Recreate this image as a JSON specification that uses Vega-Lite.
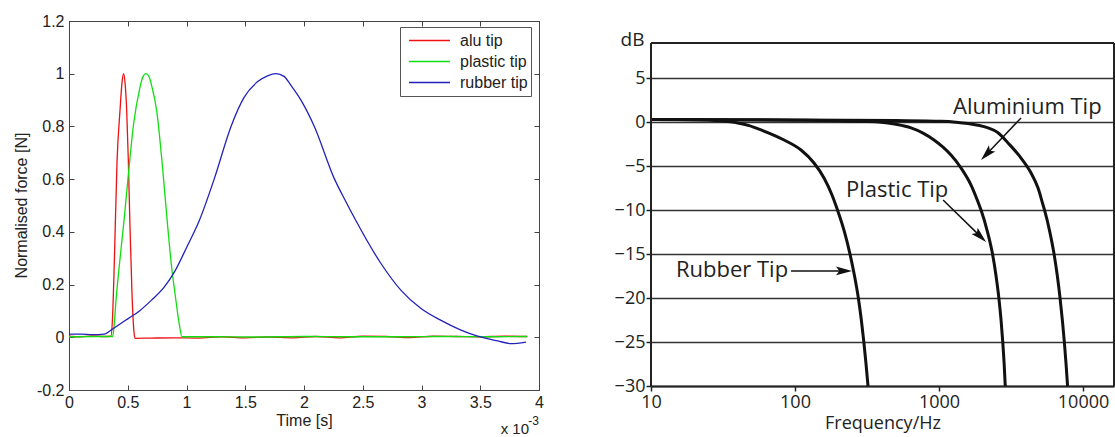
{
  "$schema": "https://vega.github.io/schema/vega-lite/v6.json",
  "padding": {"left": 12, "top": 12, "right": 0, "bottom": 0},
  "background": "white",
  "spacing": 70,
  "resolve": {"legend": {"color": "independent"}},
  "datasets": {
    "impulse": [
      {"t": 0, "force": 0.004, "tip": "alu tip"},
      {"t": 0.1, "force": 0.002, "tip": "alu tip"},
      {"t": 0.2, "force": 0.005, "tip": "alu tip"},
      {"t": 0.3, "force": 0.003, "tip": "alu tip"},
      {"t": 0.357, "force": 0.004, "tip": "alu tip"},
      {"t": 0.37, "force": 0.07, "tip": "alu tip"},
      {"t": 0.386, "force": 0.29, "tip": "alu tip"},
      {"t": 0.409, "force": 0.67, "tip": "alu tip"},
      {"t": 0.434, "force": 0.86, "tip": "alu tip"},
      {"t": 0.452, "force": 0.97, "tip": "alu tip"},
      {"t": 0.465, "force": 1.0, "tip": "alu tip"},
      {"t": 0.478, "force": 0.96, "tip": "alu tip"},
      {"t": 0.491, "force": 0.86, "tip": "alu tip"},
      {"t": 0.505, "force": 0.67, "tip": "alu tip"},
      {"t": 0.519, "force": 0.42, "tip": "alu tip"},
      {"t": 0.536, "force": 0.167, "tip": "alu tip"},
      {"t": 0.553, "force": 0.02, "tip": "alu tip"},
      {"t": 0.562, "force": -0.004, "tip": "alu tip"},
      {"t": 0.7, "force": -0.003, "tip": "alu tip"},
      {"t": 0.9, "force": -0.002, "tip": "alu tip"},
      {"t": 1.1, "force": -0.003, "tip": "alu tip"},
      {"t": 1.3, "force": 0.002, "tip": "alu tip"},
      {"t": 1.5, "force": -0.002, "tip": "alu tip"},
      {"t": 1.7, "force": 0.001, "tip": "alu tip"},
      {"t": 1.9, "force": -0.002, "tip": "alu tip"},
      {"t": 2.1, "force": 0.003, "tip": "alu tip"},
      {"t": 2.3, "force": -0.002, "tip": "alu tip"},
      {"t": 2.5, "force": 0.004, "tip": "alu tip"},
      {"t": 2.7, "force": 0.003, "tip": "alu tip"},
      {"t": 2.9, "force": -0.001, "tip": "alu tip"},
      {"t": 3.1, "force": 0.004, "tip": "alu tip"},
      {"t": 3.3, "force": 0.003, "tip": "alu tip"},
      {"t": 3.5, "force": 0.002, "tip": "alu tip"},
      {"t": 3.7, "force": 0.004, "tip": "alu tip"},
      {"t": 3.9, "force": 0.003, "tip": "alu tip"},
      {"t": 0, "force": 0.002, "tip": "plastic tip"},
      {"t": 0.2, "force": 0.003, "tip": "plastic tip"},
      {"t": 0.372, "force": 0.003, "tip": "plastic tip"},
      {"t": 0.385, "force": 0.05, "tip": "plastic tip"},
      {"t": 0.4, "force": 0.14, "tip": "plastic tip"},
      {"t": 0.43, "force": 0.28, "tip": "plastic tip"},
      {"t": 0.47, "force": 0.45, "tip": "plastic tip"},
      {"t": 0.51, "force": 0.64, "tip": "plastic tip"},
      {"t": 0.55, "force": 0.81, "tip": "plastic tip"},
      {"t": 0.6, "force": 0.94, "tip": "plastic tip"},
      {"t": 0.63, "force": 0.99, "tip": "plastic tip"},
      {"t": 0.655, "force": 1.0, "tip": "plastic tip"},
      {"t": 0.68, "force": 0.99, "tip": "plastic tip"},
      {"t": 0.706, "force": 0.95, "tip": "plastic tip"},
      {"t": 0.746, "force": 0.86, "tip": "plastic tip"},
      {"t": 0.791, "force": 0.67, "tip": "plastic tip"},
      {"t": 0.84, "force": 0.42, "tip": "plastic tip"},
      {"t": 0.875, "force": 0.26, "tip": "plastic tip"},
      {"t": 0.902, "force": 0.167, "tip": "plastic tip"},
      {"t": 0.935, "force": 0.06, "tip": "plastic tip"},
      {"t": 0.962, "force": 0.002, "tip": "plastic tip"},
      {"t": 1.2, "force": 0.002, "tip": "plastic tip"},
      {"t": 1.6, "force": 0.001, "tip": "plastic tip"},
      {"t": 2.0, "force": 0.003, "tip": "plastic tip"},
      {"t": 2.4, "force": 0.002, "tip": "plastic tip"},
      {"t": 2.8, "force": 0.002, "tip": "plastic tip"},
      {"t": 3.2, "force": 0.003, "tip": "plastic tip"},
      {"t": 3.6, "force": 0.002, "tip": "plastic tip"},
      {"t": 3.9, "force": 0.003, "tip": "plastic tip"},
      {"t": 0, "force": 0.012, "tip": "rubber tip"},
      {"t": 0.1, "force": 0.012, "tip": "rubber tip"},
      {"t": 0.2, "force": 0.01, "tip": "rubber tip"},
      {"t": 0.3, "force": 0.012, "tip": "rubber tip"},
      {"t": 0.35, "force": 0.025, "tip": "rubber tip"},
      {"t": 0.4, "force": 0.04, "tip": "rubber tip"},
      {"t": 0.5, "force": 0.07, "tip": "rubber tip"},
      {"t": 0.6, "force": 0.1, "tip": "rubber tip"},
      {"t": 0.7, "force": 0.14, "tip": "rubber tip"},
      {"t": 0.81, "force": 0.19, "tip": "rubber tip"},
      {"t": 0.9, "force": 0.25, "tip": "rubber tip"},
      {"t": 1.0, "force": 0.34, "tip": "rubber tip"},
      {"t": 1.11, "force": 0.444, "tip": "rubber tip"},
      {"t": 1.237, "force": 0.602, "tip": "rubber tip"},
      {"t": 1.379, "force": 0.8, "tip": "rubber tip"},
      {"t": 1.49, "force": 0.91, "tip": "rubber tip"},
      {"t": 1.606, "force": 0.97, "tip": "rubber tip"},
      {"t": 1.69, "force": 0.992, "tip": "rubber tip"},
      {"t": 1.762, "force": 1.0, "tip": "rubber tip"},
      {"t": 1.83, "force": 0.99, "tip": "rubber tip"},
      {"t": 1.889, "force": 0.956, "tip": "rubber tip"},
      {"t": 1.974, "force": 0.9, "tip": "rubber tip"},
      {"t": 2.088, "force": 0.8, "tip": "rubber tip"},
      {"t": 2.258, "force": 0.602, "tip": "rubber tip"},
      {"t": 2.35, "force": 0.52, "tip": "rubber tip"},
      {"t": 2.44, "force": 0.444, "tip": "rubber tip"},
      {"t": 2.655, "force": 0.28, "tip": "rubber tip"},
      {"t": 2.826, "force": 0.178, "tip": "rubber tip"},
      {"t": 2.996, "force": 0.109, "tip": "rubber tip"},
      {"t": 3.166, "force": 0.064, "tip": "rubber tip"},
      {"t": 3.336, "force": 0.027, "tip": "rubber tip"},
      {"t": 3.478, "force": 0.004, "tip": "rubber tip"},
      {"t": 3.65, "force": -0.014, "tip": "rubber tip"},
      {"t": 3.76, "force": -0.024, "tip": "rubber tip"},
      {"t": 3.89, "force": -0.018, "tip": "rubber tip"}
    ],
    "response": [
      {"f": 10, "db": 0.3, "tip": "Rubber"},
      {"f": 20, "db": 0.28, "tip": "Rubber"},
      {"f": 30, "db": 0.15, "tip": "Rubber"},
      {"f": 40, "db": -0.1, "tip": "Rubber"},
      {"f": 48, "db": -0.4, "tip": "Rubber"},
      {"f": 58.1, "db": -0.89, "tip": "Rubber"},
      {"f": 83.9, "db": -2.03, "tip": "Rubber"},
      {"f": 110.1, "db": -3.17, "tip": "Rubber"},
      {"f": 135.5, "db": -4.64, "tip": "Rubber"},
      {"f": 159, "db": -6.35, "tip": "Rubber"},
      {"f": 180.6, "db": -8.28, "tip": "Rubber"},
      {"f": 197.3, "db": -10, "tip": "Rubber"},
      {"f": 220.7, "db": -12.5, "tip": "Rubber"},
      {"f": 240.9, "db": -15, "tip": "Rubber"},
      {"f": 259, "db": -17.5, "tip": "Rubber"},
      {"f": 275.2, "db": -20, "tip": "Rubber"},
      {"f": 288.7, "db": -22.5, "tip": "Rubber"},
      {"f": 300.5, "db": -25, "tip": "Rubber"},
      {"f": 311.2, "db": -27.5, "tip": "Rubber"},
      {"f": 321.3, "db": -30, "tip": "Rubber"},
      {"f": 10, "db": 0.3, "tip": "Plastic"},
      {"f": 100, "db": 0.22, "tip": "Plastic"},
      {"f": 200, "db": 0.15, "tip": "Plastic"},
      {"f": 300, "db": 0.08, "tip": "Plastic"},
      {"f": 395.6, "db": 0.0, "tip": "Plastic"},
      {"f": 502.8, "db": -0.25, "tip": "Plastic"},
      {"f": 639.2, "db": -0.66, "tip": "Plastic"},
      {"f": 774.4, "db": -1.25, "tip": "Plastic"},
      {"f": 923.2, "db": -2.03, "tip": "Plastic"},
      {"f": 1066, "db": -2.85, "tip": "Plastic"},
      {"f": 1211, "db": -3.74, "tip": "Plastic"},
      {"f": 1421.6, "db": -5.21, "tip": "Plastic"},
      {"f": 1668.1, "db": -7.15, "tip": "Plastic"},
      {"f": 1865.9, "db": -9.08, "tip": "Plastic"},
      {"f": 1957.4, "db": -10, "tip": "Plastic"},
      {"f": 2171.8, "db": -12.5, "tip": "Plastic"},
      {"f": 2352.7, "db": -15, "tip": "Plastic"},
      {"f": 2488.2, "db": -17.5, "tip": "Plastic"},
      {"f": 2602.5, "db": -20, "tip": "Plastic"},
      {"f": 2695.7, "db": -22.5, "tip": "Plastic"},
      {"f": 2769.8, "db": -25, "tip": "Plastic"},
      {"f": 2832.4, "db": -27.5, "tip": "Plastic"},
      {"f": 2882.4, "db": -30, "tip": "Plastic"},
      {"f": 10, "db": 0.3, "tip": "Aluminium"},
      {"f": 100, "db": 0.25, "tip": "Aluminium"},
      {"f": 500, "db": 0.18, "tip": "Aluminium"},
      {"f": 1032.5, "db": 0.1, "tip": "Aluminium"},
      {"f": 1312.5, "db": 0.0, "tip": "Aluminium"},
      {"f": 1589.6, "db": -0.15, "tip": "Aluminium"},
      {"f": 1865.9, "db": -0.35, "tip": "Aluminium"},
      {"f": 2189.4, "db": -0.66, "tip": "Aluminium"},
      {"f": 2568.4, "db": -1.2, "tip": "Aluminium"},
      {"f": 3014.6, "db": -2.37, "tip": "Aluminium"},
      {"f": 3710.1, "db": -4.08, "tip": "Aluminium"},
      {"f": 4354.8, "db": -5.78, "tip": "Aluminium"},
      {"f": 4869.7, "db": -7.49, "tip": "Aluminium"},
      {"f": 5275.8, "db": -9.42, "tip": "Aluminium"},
      {"f": 5403.6, "db": -10, "tip": "Aluminium"},
      {"f": 5881.2, "db": -12.5, "tip": "Aluminium"},
      {"f": 6290.3, "db": -15, "tip": "Aluminium"},
      {"f": 6630.3, "db": -17.5, "tip": "Aluminium"},
      {"f": 6922.5, "db": -20, "tip": "Aluminium"},
      {"f": 7182.5, "db": -22.5, "tip": "Aluminium"},
      {"f": 7415.2, "db": -25, "tip": "Aluminium"},
      {"f": 7620.8, "db": -27.5, "tip": "Aluminium"},
      {"f": 7806.9, "db": -30, "tip": "Aluminium"}
    ]
  },
  "hconcat": [
    {
      "width": 470,
      "height": 369,
      "view": {"stroke": "#444", "strokeWidth": 1},
      "resolve": {"axis": {"x": "independent", "y": "independent"}},
      "layer": [
        {
          "data": {"name": "impulse"},
          "mark": {"type": "line", "strokeWidth": 1.3, "interpolate": "monotone"},
          "encoding": {
            "x": {
              "field": "t", "type": "quantitative",
              "scale": {"domain": [0, 4], "nice": false, "zero": false},
              "axis": {
                "orient": "bottom",
                "title": "Time [s]", "values": [0, 0.5, 1, 1.5, 2, 2.5, 3, 3.5, 4],
                "labelExpr": "'' + datum.value", "labelFlush": false,
                "grid": false, "domainColor": "#444", "tickColor": "#444",
                "tickSize": -5, "labelPadding": 9,
                "labelFont": "Liberation Sans", "labelFontSize": 16, "labelColor": "#222",
                "titleFont": "Liberation Sans", "titleFontSize": 16, "titleFontWeight": "normal",
                "titleColor": "#222", "titlePadding": 2
              }
            },
            "y": {
              "field": "force", "type": "quantitative",
              "scale": {"domain": [-0.2, 1.2], "nice": false, "zero": false},
              "axis": {
                "orient": "left",
                "title": "Normalised force [N]", "values": [-0.2, 0, 0.2, 0.4, 0.6, 0.8, 1, 1.2],
                "labelExpr": "'' + round(datum.value * 10) / 10",
                "grid": false, "domainColor": "#444", "tickColor": "#444",
                "tickSize": -5, "labelPadding": 10,
                "labelFont": "Liberation Sans", "labelFontSize": 16, "labelColor": "#222",
                "titleFont": "Liberation Sans", "titleFontSize": 16, "titleFontWeight": "normal",
                "titleColor": "#222", "titleX": -48, "titleY": 184, "titleAlign": "center",
                "titleBaseline": "middle"
              }
            },
            "color": {
              "field": "tip", "type": "nominal",
              "scale": {"domain": ["alu tip", "plastic tip", "rubber tip"], "range": ["#ee1111", "#11dd11", "#2222bb"]},
              "legend": {
                "title": null, "orient": "none", "legendX": 331, "legendY": 6,
                "symbolType": "stroke", "symbolSize": 1681, "symbolStrokeWidth": 1.3,
                "symbolOffset": 5,
                "clipHeight": 21, "rowPadding": 0, "padding": 3,
                "labelFont": "Liberation Sans", "labelFontSize": 16, "labelColor": "#222",
                "labelOffset": 9, "strokeColor": "#555", "fillColor": "white"
              }
            }
          }
        },
        {
          "data": {"values": [{"t": 0, "force": 0}]},
          "mark": {"type": "point", "opacity": 0},
          "encoding": {
            "x": {
              "field": "t", "type": "quantitative",
              "axis": {"orient": "top", "title": null, "labels": false, "values": [0, 0.5, 1, 1.5, 2, 2.5, 3, 3.5, 4],
                "grid": false, "domainColor": "#444", "tickColor": "#444", "tickSize": -5}
            },
            "y": {
              "field": "force", "type": "quantitative",
              "axis": {"orient": "right", "title": null, "labels": false, "values": [-0.2, 0, 0.2, 0.4, 0.6, 0.8, 1, 1.2],
                "grid": false, "domainColor": "#444", "tickColor": "#444", "tickSize": -5}
            }
          }
        },
        {
          "data": {"values": [{}]},
          "mark": {"type": "text", "align": "right", "baseline": "alphabetic", "dx": -10, "dy": 44,
            "font": "Liberation Sans", "fontSize": 15, "color": "#222", "text": "x 10"},
          "encoding": {"x": {"datum": 4, "type": "quantitative", "axis": null}, "y": {"datum": -0.2, "type": "quantitative", "axis": null}}
        },
        {
          "data": {"values": [{}]},
          "mark": {"type": "text", "align": "right", "baseline": "alphabetic", "dx": 0, "dy": 35,
            "font": "Liberation Sans", "fontSize": 12, "color": "#222", "text": "-3"},
          "encoding": {"x": {"datum": 4, "type": "quantitative", "axis": null}, "y": {"datum": -0.2, "type": "quantitative", "axis": null}}
        }
      ]
    },
    {
      "width": 463,
      "height": 365,
      "view": {"stroke": null},
      "layer": [
        {
          "data": {"name": "response"},
          "mark": {"type": "line", "stroke": "#111", "strokeWidth": 3, "interpolate": "monotone"},
          "encoding": {
            "x": {
              "field": "f", "type": "quantitative",
              "scale": {"type": "log", "domain": [10, 16400], "nice": false},
              "axis": {
                "title": "Frequency/Hz", "values": [10, 100, 1000, 10000], "format": "d",
                "labelFlush": false, "grid": false,
                "domainColor": "#222", "domainWidth": 2, "tickColor": "#222", "tickWidth": 1.5,
                "tickSize": 5, "labelPadding": 2,
                "labelFont": "Open Sans", "labelFontSize": 18, "labelColor": "#222",
                "titleFont": "Open Sans", "titleFontSize": 18, "titleFontWeight": "normal",
                "titleColor": "#222", "titlePadding": 3
              }
            },
            "y": {
              "field": "db", "type": "quantitative",
              "scale": {"domain": [-30, 11.5], "nice": false, "zero": false},
              "axis": {
                "title": "dB", "values": [-30, -25, -20, -15, -10, -5, 0, 5],
                "grid": true, "gridColor": "#333", "gridWidth": 1.6, "gridOpacity": 1,
                "domain": false, "tickColor": "#222", "tickWidth": 1.5,
                "tickSize": 5, "labelPadding": 1,
                "labelFont": "Open Sans", "labelFontSize": 18, "labelColor": "#222",
                "titleFont": "Open Sans", "titleFontSize": 19, "titleFontWeight": "normal",
                "titleColor": "#222", "titleAngle": 0, "titleX": -7, "titleY": 18,
                "titleAlign": "right", "titleBaseline": "middle"
              }
            },
            "detail": {"field": "tip", "type": "nominal"}
          }
        },
        {
          "data": {"values": [{}]},
          "mark": {"type": "rule", "stroke": "#222", "strokeWidth": 2},
          "encoding": {"x": {"datum": 10, "type": "quantitative"}, "y": {"datum": -30, "type": "quantitative"}, "y2": {"datum": 9}}
        },
        {
          "data": {"values": [{}]},
          "mark": {"type": "rule", "stroke": "#222", "strokeWidth": 2},
          "encoding": {"x": {"datum": 16400, "type": "quantitative"}, "y": {"datum": -30, "type": "quantitative"}, "y2": {"datum": 9}}
        },
        {
          "data": {"values": [{}]},
          "mark": {"type": "rule", "stroke": "#222", "strokeWidth": 2},
          "encoding": {"y": {"datum": 9, "type": "quantitative"}, "x": {"datum": 10, "type": "quantitative"}, "x2": {"datum": 16400}}
        },
        {
          "data": {"values": [{}]},
          "mark": {"type": "text", "align": "left", "baseline": "middle", "font": "Open Sans", "fontSize": 22, "color": "#222", "text": "Aluminium Tip"},
          "encoding": {"x": {"datum": 1250, "type": "quantitative"}, "y": {"datum": 1.72, "type": "quantitative"}}
        },
        {
          "data": {"values": [{}]},
          "mark": {"type": "text", "align": "left", "baseline": "middle", "font": "Open Sans", "fontSize": 22, "color": "#222", "text": "Plastic Tip"},
          "encoding": {"x": {"datum": 226, "type": "quantitative"}, "y": {"datum": -7.71, "type": "quantitative"}}
        },
        {
          "data": {"values": [{}]},
          "mark": {"type": "text", "align": "left", "baseline": "middle", "font": "Open Sans", "fontSize": 22, "color": "#222", "text": "Rubber Tip"},
          "encoding": {"x": {"datum": 14.9, "type": "quantitative"}, "y": {"datum": -16.81, "type": "quantitative"}}
        },
        {
          "data": {"values": [{}]},
          "mark": {"type": "rule", "stroke": "#111", "strokeWidth": 1.5},
          "encoding": {"x": {"datum": 3707, "type": "quantitative"}, "y": {"datum": 0.47, "type": "quantitative"}, "x2": {"datum": 2138}, "y2": {"datum": -3.64}}
        },
        {
          "data": {"values": [{}]},
          "mark": {"type": "rule", "stroke": "#111", "strokeWidth": 1.5},
          "encoding": {"x": {"datum": 1067, "type": "quantitative"}, "y": {"datum": -8.85, "type": "quantitative"}, "x2": {"datum": 1936}, "y2": {"datum": -12.99}}
        },
        {
          "data": {"values": [{}]},
          "mark": {"type": "rule", "stroke": "#111", "strokeWidth": 1.5},
          "encoding": {"x": {"datum": 93.8, "type": "quantitative"}, "y": {"datum": -16.92, "type": "quantitative"}, "x2": {"datum": 219}, "y2": {"datum": -16.92}}
        },
        {
          "data": {"values": [{}]},
          "mark": {"type": "point", "shape": "M0,-1L0.55,1L0,0.6L-0.55,1Z", "size": 256, "filled": true, "color": "#111", "opacity": 1, "angle": 224},
          "encoding": {"x": {"datum": 2138, "type": "quantitative"}, "y": {"datum": -3.64, "type": "quantitative"}}
        },
        {
          "data": {"values": [{}]},
          "mark": {"type": "point", "shape": "M0,-1L0.55,1L0,0.6L-0.55,1Z", "size": 256, "filled": true, "color": "#111", "opacity": 1, "angle": 134},
          "encoding": {"x": {"datum": 1936, "type": "quantitative"}, "y": {"datum": -12.99, "type": "quantitative"}}
        },
        {
          "data": {"values": [{}]},
          "mark": {"type": "point", "shape": "M0,-1L0.55,1L0,0.6L-0.55,1Z", "size": 256, "filled": true, "color": "#111", "opacity": 1, "angle": 90},
          "encoding": {"x": {"datum": 219, "type": "quantitative"}, "y": {"datum": -16.92, "type": "quantitative"}}
        }
      ]
    }
  ]
}
